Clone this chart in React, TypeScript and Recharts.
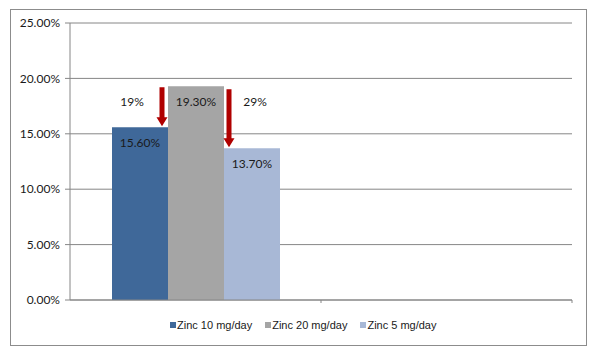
import React from "react";
import { BarChart, Bar, XAxis, YAxis, CartesianGrid, Legend, LabelList } from "recharts";

const categories = ["Dose group", "Empty"];
const seriesNames = ["Zinc 10 mg/day", "Zinc 20 mg/day", "Zinc 5 mg/day"];
const zinc10 = [15.6, null];
const zinc20 = [19.3, null];
const zinc5 = [13.7, null];
const reductionLabels = ["19%", "29%"];
const yTicks = [0, 5, 10, 15, 20, 25];

const colors = ["#3f6899", "#a5a5a5", "#a8b8d6"];
const ARROW = "#b00000";
const FONT = "Lato, 'Liberation Sans', sans-serif";

const data = categories.map((c, i) => ({
  name: c,
  z10: zinc10[i],
  z20: zinc20[i],
  z5: zinc5[i],
}));

const refValue = zinc20[0] as number;

function Arrow({ x, y1, y2 }: { x: number; y1: number; y2: number }) {
  const headH = 9;
  const headW = 5.5;
  const shaftW = 2.5;
  const hy = y2 - headH;
  const d = `M${x - shaftW},${y1} L${x + shaftW},${y1} L${x + shaftW},${hy} L${x + headW},${hy} L${x},${y2} L${x - headW},${hy} L${x - shaftW},${hy} Z`;
  return <path d={d} fill={ARROW} stroke="none" />;
}

function makeLabel(kind: "left" | "mid" | "right") {
  return (props: any) => {
    const { x, y, width, height, value, index } = props;
    if (value == null || index !== 0) return null;
    const cx = x + width / 2;
    const bottom = y + height;
    const pxPerUnit = height / value;
    const yRef = bottom - refValue * pxPerUnit;
    const text = (
      <text
        x={cx}
        y={y + 17}
        textAnchor="middle"
        dominantBaseline="middle"
        fontFamily={FONT}
        fontSize={12}
        fill="#1a1a1a"
      >
        {value.toFixed(2)}%
      </text>
    );
    if (kind === "mid") return <g>{text}</g>;
    if (kind === "left") {
      const ax = x + width - 6;
      return (
        <g>
          {text}
          <Arrow x={ax} y1={yRef + 1} y2={y - 1} />
          <text x={ax - 30} y={yRef + 17} textAnchor="middle" dominantBaseline="middle" fontFamily={FONT} fontSize={12} fill="#1a1a1a">
            {reductionLabels[0]}
          </text>
        </g>
      );
    }
    const ax = x + 5;
    return (
      <g>
        {text}
        <Arrow x={ax} y1={yRef + 3} y2={y - 1} />
        <text x={ax + 26} y={yRef + 17} textAnchor="middle" dominantBaseline="middle" fontFamily={FONT} fontSize={12} fill="#1a1a1a">
          {reductionLabels[1]}
        </text>
      </g>
    );
  };
}

function XTick(props: any) {
  const { x, y, payload } = props;
  const off = payload?.offset ?? 0;
  const tx = x + off;
  return <line x1={tx} x2={tx} y1={y} y2={y + 3} stroke="#868686" />;
}

function LegendContent() {
  return (
    <div
      style={{
        display: "flex",
        alignItems: "center",
        paddingLeft: 160,
        height: 30,
        fontFamily: "'Liberation Sans', Arial, sans-serif",
        fontSize: 11,
        color: "#1a1a1a",
        letterSpacing: 0,
      }}
    >
      {seriesNames.map((n, i) => (
        <div key={n} style={{ display: "flex", alignItems: "center", marginRight: 13 }}>
          <span style={{ display: "inline-block", width: 6, height: 6, background: colors[i], marginRight: 1 }} />
          <span>{n}</span>
        </div>
      ))}
    </div>
  );
}

export default function App() {
  return (
    <div style={{ position: "absolute", left: 0, top: 0, width: 589, height: 353, background: "#fff" }}>
      <div
        style={{
          position: "absolute",
          left: 10,
          top: 9,
          width: 575,
          height: 335,
          border: "1px solid #8c8c8c",
        }}
      />
      <div style={{ position: "absolute", left: 0, top: 0 }}>
        <BarChart
          width={589}
          height={353}
          data={data}
          margin={{ top: 23, right: 17, left: 10, bottom: 13 }}
          barCategoryGap={42}
          barGap={0}
        >
          <CartesianGrid vertical={false} stroke="#868686" strokeDasharray="" />
          <XAxis
            dataKey="name"
            height={10}
            axisLine={{ stroke: "#868686" }}
            tickLine={false}
            tickSize={0}
            tickMargin={0}
            tick={<XTick />}
            interval={0}
          />
          <YAxis
            width={60}
            domain={[0, 25]}
            ticks={yTicks}
            interval={0}
            tickFormatter={(v: number) => v.toFixed(2) + "%"}
            axisLine={{ stroke: "#868686" }}
            tickLine={{ stroke: "#868686" }}
            tickSize={5}
            tickMargin={5}
            tick={{ fontFamily: FONT, fontSize: 12, fill: "#1a1a1a" }}
          />
          <Legend verticalAlign="bottom" height={30} content={<LegendContent />} />
          <Bar dataKey="z10" name={seriesNames[0]} fill={colors[0]} isAnimationActive={false}>
            <LabelList dataKey="z10" content={makeLabel("left")} />
          </Bar>
          <Bar dataKey="z20" name={seriesNames[1]} fill={colors[1]} isAnimationActive={false}>
            <LabelList dataKey="z20" content={makeLabel("mid")} />
          </Bar>
          <Bar dataKey="z5" name={seriesNames[2]} fill={colors[2]} isAnimationActive={false}>
            <LabelList dataKey="z5" content={makeLabel("right")} />
          </Bar>
        </BarChart>
      </div>
    </div>
  );
}
